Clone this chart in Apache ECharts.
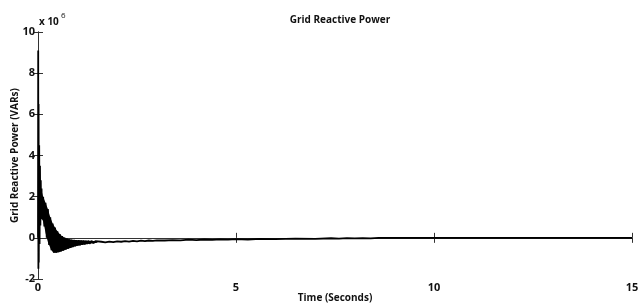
<!DOCTYPE html>
<html><head><meta charset="utf-8">
<script src="https://cdn.jsdelivr.net/npm/echarts@6/dist/echarts.min.js"></script>
<style>html,body{margin:0;padding:0;background:#fff}#c{width:638px;height:305px}</style>
</head><body><div id="c"></div>
<script>
// Time (s) and grid reactive power (in units of 10^6 VARs)
var times = [0.000,0.005,0.010,0.015,0.020,0.030,0.040,0.050,0.060,0.070,0.080,0.090,
  0.10,0.13,0.16,0.19,0.22,0.25,0.28,0.31,0.34,0.37,0.40,0.43,0.46,0.49,0.52,0.55,0.58,0.61,0.64,0.67,
  0.70,0.73,0.76,0.79,0.82,0.85,0.88,0.91,0.94,0.97,1.00,1.03,1.06,1.09,1.12,1.15,1.18,1.21,1.24,1.27,
  1.30,1.35,1.40,1.45,1.50,1.60,1.70,1.80,1.90,2.00,2.10,2.20,2.30,2.40,2.50,2.60,2.70,2.80,2.90,3.00,
  3.20,3.40,3.60,3.80,4.00,4.20,4.40,4.60,4.80,5.00,5.30,5.60,6.00,6.50,7.00,7.40,7.60,7.80,8.00,8.20,
  8.40,8.60,15.00];
var power = [0,9.1,-1.5,6.5,-1.2,4.5,-0.3,3.5,0.6,2.8,0.9,2.4,
  0.9,2.0,0.55,1.7,0.0,1.4,-0.35,1.0,-0.6,0.7,-0.72,0.5,-0.72,0.32,-0.7,0.18,-0.66,0.08,-0.62,0.01,
  -0.57,-0.04,-0.53,-0.07,-0.49,-0.09,-0.45,-0.1,-0.41,-0.11,-0.38,-0.12,-0.36,-0.13,-0.34,-0.13,-0.32,-0.14,-0.30,-0.14,
  -0.28,-0.15,-0.26,-0.16,-0.24,-0.19,-0.22,-0.18,-0.21,-0.17,-0.19,-0.16,-0.18,-0.15,-0.17,-0.14,-0.16,-0.13,-0.15,-0.12,
  -0.13,-0.11,-0.12,-0.09,-0.11,-0.08,-0.10,-0.07,-0.09,-0.06,-0.08,-0.05,-0.06,-0.04,-0.05,-0.02,-0.04,-0.01,-0.03,-0.01,
  -0.03,0,0];
// Envelope of the dense oscillation used to fill the band solid
var envTimes = [0.10,0.13,0.16,0.19,0.22,0.25,0.28,0.31,0.34,0.37,0.40,0.46,0.52,0.58,0.64,0.70,0.76,0.82,0.88,0.94,1.00,1.12,1.24,1.40,1.50];
var envUpper = [2.2,2.0,1.85,1.7,1.55,1.4,1.2,1.0,0.85,0.7,0.6,0.4,0.25,0.13,0.04,-0.02,-0.06,-0.08,-0.1,-0.11,-0.12,-0.13,-0.14,-0.15,-0.16];
var envLower = [0.9,0.8,0.55,0.25,0.0,-0.2,-0.35,-0.48,-0.6,-0.68,-0.72,-0.72,-0.7,-0.66,-0.62,-0.57,-0.53,-0.49,-0.45,-0.41,-0.38,-0.34,-0.30,-0.26,-0.24];
var xTicks = [0,5,10,15];
var yTicks = [-2,0,2,4,6,8,10];

var FONT = 'Open Sans';
var chart = echarts.init(document.getElementById('c'), null, {renderer:'canvas'});
var data = times.map(function(t,i){return [t, power[i]];});
var envData = envTimes.map(function(t,i){return [t, envUpper[i], envLower[i]];});
var axisLine = {show:true, lineStyle:{color:'#333', width:1}};
var tick = {show:true, inside:true, length:5, lineStyle:{color:'#333', width:1}};
var lbl = {color:'#111', fontFamily:FONT, fontWeight:'bold', fontSize:11};
var nameStyle = {fontFamily:FONT, fontWeight:'bold', fontSize:10, color:'#111'};
chart.setOption({
  animation:false,
  backgroundColor:'#fff',
  title:{text:'Grid Reactive Power', left:335, top:10, textAlign:'center', textStyle:nameStyle},
  grid:{left:38, right:6, top:32, bottom:26, containLabel:false, outerBoundsMode:'none'},
  xAxis:[{type:'value', min:0, max:15, interval:5, position:'bottom',
      axisLine:axisLine, axisTick:tick, splitLine:{show:false},
      axisLabel:Object.assign({margin:3}, lbl),
      name:'Time (Seconds)', nameLocation:'middle', nameGap:14, nameMoveOverlap:false,
      nameTextStyle:nameStyle},
    {type:'value', min:0, max:15, interval:5, position:'top',
      axisLine:axisLine, axisTick:tick, splitLine:{show:false}, axisLabel:{show:false}}],
  yAxis:[{type:'value', min:-2, max:10, interval:2, position:'left',
      axisLine:axisLine, axisTick:tick, splitLine:{show:false},
      axisLabel:Object.assign({margin:3}, lbl),
      name:'Grid Reactive Power (VARs)', nameLocation:'middle', nameGap:18, nameMoveOverlap:false,
      nameTextStyle:nameStyle},
    {type:'value', min:-2, max:10, interval:2, position:'right',
      axisLine:axisLine, axisTick:tick, splitLine:{show:false}, axisLabel:{show:false}}],
  graphic:[
    {type:'text', left:39, top:17, style:{text:'x 10', fontFamily:FONT, fontWeight:'bold', fontSize:10, fill:'#111'}},
    {type:'text', left:61, top:12, style:{text:'6', fontFamily:FONT, fontSize:8, fill:'#111'}}
  ],
  series:[
    {type:'custom', data:envData, silent:true, encode:{x:0, y:[1,2]},
      renderItem:function(params, api){
        if (params.dataIndex !== 0) return null;
        var pts = [];
        for (var i = 0; i < envData.length; i++) pts.push(api.coord([envData[i][0], envData[i][1]]));
        for (var j = envData.length - 1; j >= 0; j--) pts.push(api.coord([envData[j][0], envData[j][2]]));
        return {type:'polygon', shape:{points:pts}, style:{fill:'#000'}};
      }},
    {type:'line', data:data, showSymbol:false, symbol:'none',
      lineStyle:{color:'#000', width:1.8}, silent:true}]
});
</script></body></html>
